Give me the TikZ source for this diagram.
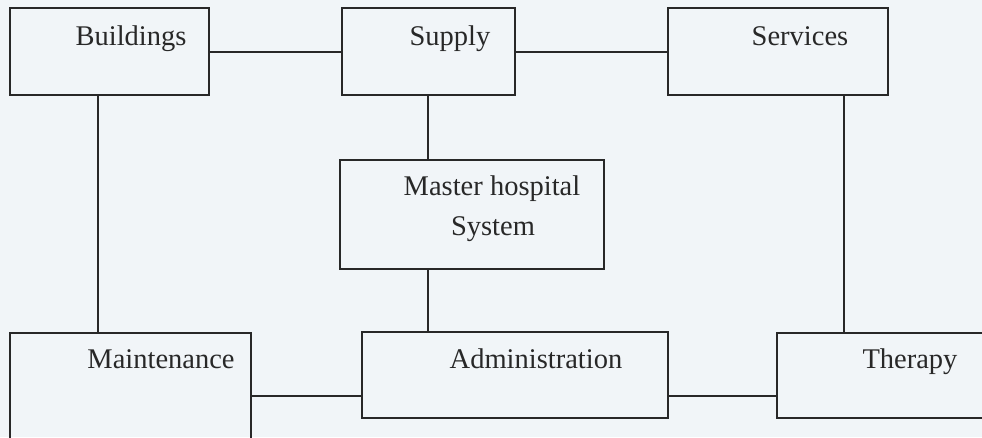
\documentclass[tikz,border=0pt]{standalone}
\usepackage{fontspec}
\setmainfont{Liberation Serif}
\definecolor{paper}{RGB}{241,245,248}
\definecolor{ink}{RGB}{40,40,40}
\begin{document}
\begin{tikzpicture}[x=1pt,y=-1pt,
  box/.style={draw=ink, line width=1.9pt, rectangle, inner sep=0pt, anchor=north west},
  lbl/.style={text=ink, font=\fontsize{28.5}{38}\selectfont, anchor=base, inner sep=0pt},
  link/.style={draw=ink, line width=1.9pt}]
  % page
  \fill[paper] (0,0) rectangle (982,437);
  \useasboundingbox (0,0) rectangle (982,437);
  \clip (0,0) rectangle (982,437);

  % boxes
  \node[box, minimum width=199pt, minimum height=87pt]  (bld) at (9,7)   {};
  \node[box, minimum width=173pt, minimum height=87pt]  (sup) at (341,7) {};
  \node[box, minimum width=220pt, minimum height=87pt]  (srv) at (667,7) {};
  \node[box, minimum width=264pt, minimum height=109pt] (mst) at (339,159) {};
  \node[box, minimum width=241pt, minimum height=118pt] (mnt) at (9,332) {};
  \node[box, minimum width=306pt, minimum height=86pt]  (adm) at (361,331) {};
  \node[box, minimum width=224pt, minimum height=85pt]  (thr) at (776,332) {};

  % labels
  \node[lbl] (bldt) at (131,45)  {Buildings};
  \node[lbl] (supt) at (450,45)  {Supply};
  \node[lbl] (srvt) at (800,45)  {Services};
  \node[lbl] (mst1) at (492,195) {Master hospital};
  \node[lbl] (mst2) at (493,235) {System};
  \node[lbl] (mntt) at (161,368) {Maintenance};
  \node[lbl] (admt) at (536,368) {Administration};
  \node[lbl] (thrt) at (910,368) {Therapy};

  % top row links
  \draw[link] ([yshift=-0.5pt]bld.east) -- ([yshift=-0.5pt]sup.west);
  \draw[link] ([yshift=-0.5pt]sup.east) -- ([yshift=-0.5pt]srv.west);
  % vertical links
  \draw[link] ([xshift=-11.5pt]bld.south) -- ([xshift=-11.5pt]bld.south |- mnt.north);
  \draw[link] ([xshift=-0.5pt]sup.south) -- ([xshift=-0.5pt]sup.south |- mst.north);
  \draw[link] ([xshift=-0.5pt]mst.south -| sup.south) -- ([xshift=-0.5pt]adm.north -| sup.south);
  \draw[link] ([xshift=66pt]srv.south) -- ([xshift=66pt]srv.south |- thr.north);
  % bottom row links
  \draw[link] ([yshift=-21pt]adm.west -| mnt.east) -- ([yshift=-21pt]adm.west);
  \draw[link] ([yshift=-21pt]adm.east) -- ([yshift=-21pt]adm.east -| thr.west);
\end{tikzpicture}
\end{document}
